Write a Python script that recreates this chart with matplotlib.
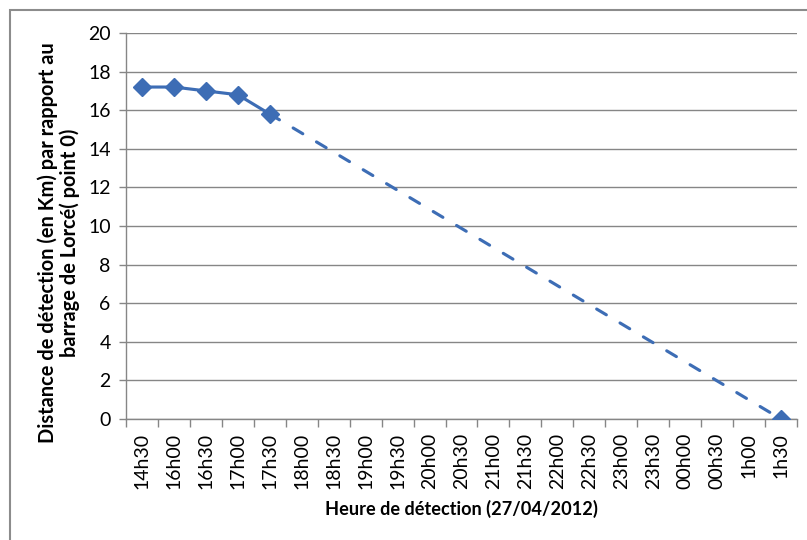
import numpy as np
import matplotlib
matplotlib.use("Agg")
import matplotlib.pyplot as plt
from matplotlib.patches import Rectangle

categories = ["14h30", "16h00", "16h30", "17h00", "17h30", "18h00", "18h30",
              "19h00", "19h30", "20h00", "20h30", "21h00", "21h30", "22h00",
              "22h30", "23h00", "23h30", "00h00", "00h30", "1h00", "1h30"]
observed = [17.2, 17.2, 17.0, 16.8, 15.8] + [np.nan] * 16
projected = [np.nan] * 4 + [15.8] + [np.nan] * 15 + [0.0]

ylabel = "Distance de détection (en Km) par rapport au\nbarrage de Lorcé( point 0)"
xlabel = "Heure de détection (27/04/2012)"

plt.rcParams['font.family'] = ['Lato', 'DejaVu Sans']
color = '#3D6DB5'
gray = '#868686'

fig = plt.figure(figsize=(8.07, 5.40), dpi=100)
ax = fig.add_axes([126/807, 1-419/540, (797-126)/807, (419-33)/540])

x = np.arange(len(categories))
obs = np.array(observed, dtype=float)
proj = np.array(projected, dtype=float)

m = ~np.isnan(proj)
ax.plot(x[m], proj[m], color=color, lw=2.25, dashes=(3.6, 5.1),
        dash_capstyle='round', zorder=3)
ax.plot(x[m][-1:], proj[m][-1:], color=color, marker='D', markersize=9, ls='none', zorder=4)
mo = ~np.isnan(obs)
ax.plot(x[mo], obs[mo], color=color, lw=2.25, marker='D', markersize=9, zorder=4)

ax.set_xlim(-0.5, len(categories) - 0.5)
ax.set_ylim(0, 20)
ax.set_yticks(np.arange(0, 21, 2))
ax.yaxis.grid(True, color=gray, lw=1)
ax.set_axisbelow(True)

ax.set_xticks(np.arange(-0.5, len(categories) + 0.5, 1))
ax.set_xticklabels([])
ax.set_xticks(x, minor=True)
ax.set_xticklabels(categories, minor=True, rotation=90, fontsize=14)
ax.tick_params(axis='x', which='major', length=6, color=gray, width=1)
ax.tick_params(axis='x', which='minor', length=0, pad=10)
ax.tick_params(axis='y', length=5, color=gray, width=1, labelsize=14, pad=6)

for s in ['top', 'right']:
    ax.spines[s].set_visible(False)
for s in ['left', 'bottom']:
    ax.spines[s].set_color(gray)
    ax.spines[s].set_linewidth(1)

ax.set_ylabel(ylabel, fontsize=14.4, fontweight='bold', linespacing=1.05)
ax.yaxis.set_label_coords(-0.069, 0.456)
ax.set_xlabel(xlabel, fontsize=13.1, fontweight='bold', labelpad=8)

fig.patches.append(Rectangle((10/807, -0.1), 1.2, 1 - 10/540 + 0.1,
                             transform=fig.transFigure, fill=False,
                             edgecolor='#8C8C8C', lw=1.5))

fig.savefig("out.png", dpi=100)
